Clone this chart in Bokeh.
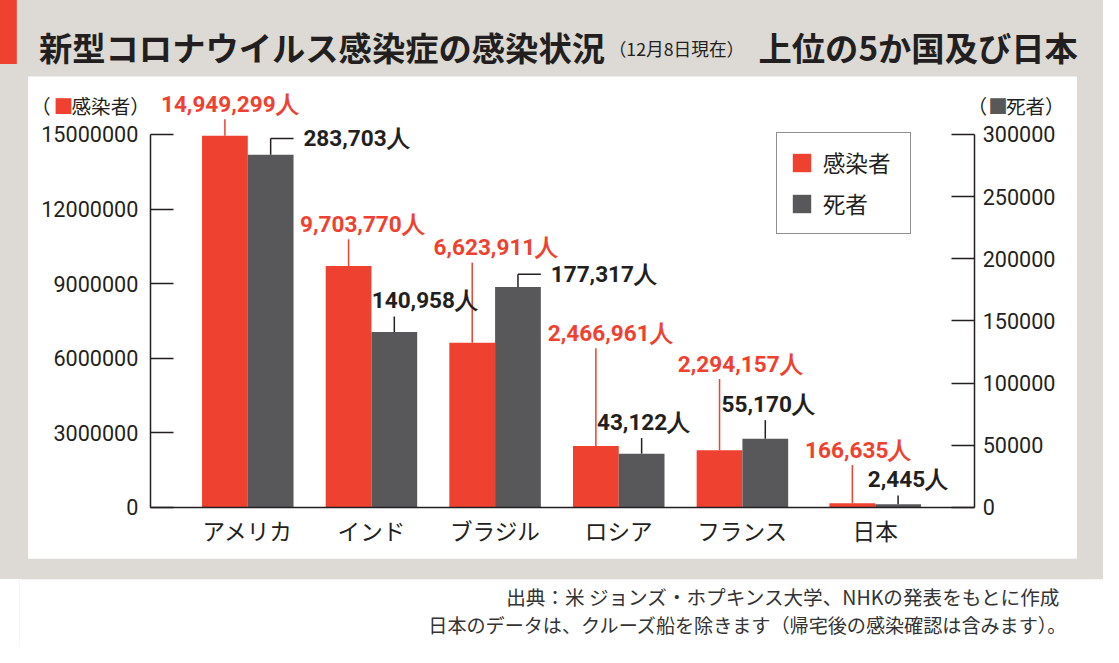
from bokeh.plotting import figure
from bokeh.models import (ColumnDataSource, FactorRange, Range1d, LinearAxis, CategoricalAxis,
                          FixedTicker, BasicTickFormatter, Legend, LegendItem, Label, BoxAnnotation)
from bokeh.transform import dodge
from bokeh.core.properties import value
from bokeh.embed import file_html
from bokeh.resources import INLINE

# ---------------- data ----------------
CATEGORIES = ["アメリカ", "インド", "ブラジル", "ロシア", "フランス", "日本"]
GROUPS = ["上位5か国"] * 5 + ["日本 "]
INFECTED = [14949299, 9703770, 6623911, 2466961, 2294157, 166635]
DEATHS = [283703, 140958, 177317, 43122, 55170, 2445]
LEFT_TICKS = [0, 3000000, 6000000, 9000000, 12000000, 15000000]
RIGHT_TICKS = [0, 50000, 100000, 150000, 200000, 250000, 300000]

# ---------------- layout (reference pixels, scaled to the canvas) ----------------
W, H = 1103, 647
REF_W, REF_H = 1119, 663
SX, SY = W / REF_W, H / REF_H
SF = (SX + SY) / 2


def cx(r):
    return r * SX


def cy(r):
    return r * SY


def fs(px):
    return f"{px * SF:.1f}px"


UNIT = 125.45 * SX           # px per category
CENTER = 569.25 * SX         # horizontal centre of the bar groups
FRAME_L = int(round(2 * CENTER - W))
GROUP_PAD = 0.074
RANGE_PAD = ((W - FRAME_L) / UNIT - (len(CATEGORIES) + GROUP_PAD)) / 2
XS0 = -RANGE_PAD
ZERO_PY, TOP_PY = cy(519.3), cy(137.3)
K_INF = 15000000 / (ZERO_PY - TOP_PY)
K_DEA = 300000 / (ZERO_PY - TOP_PY)


def X(px):
    return XS0 + (px - FRAME_L) / UNIT


RED = "#ef4130"
GRAY = "#58585a"
DARK = "#231f20"
BEIGE = "#dddad5"
JP = "Noto Sans CJK JP"
NUM = "Roboto"
VAL = "Roboto"
VAL_SIZE = fs(23)
BW = 0.37
HALF = BW / 2

# label placement (reference px): shift of label centre from bar centre, rise of label centre above bar top
RED_DX = [5, 14, 24, 14.5, 21, 6]
RED_RISE = [32, 42.5, 97, 115, 88, 54]
GRAY_DX = [0, 31, 0, 2, 3, 10]
GRAY_RISE = [16.7, 32, 13, 32, 35, 25]
GRAY_BRACKET = [True, False, True, False, False, False]

factors = list(zip(GROUPS, CATEGORIES))

p = figure(width=W, height=H, output_backend="svg", toolbar_location=None,
           x_range=FactorRange(*factors, group_padding=GROUP_PAD, factor_padding=0,
                               range_padding=RANGE_PAD, range_padding_units="absolute"),
           y_range=Range1d(-(H - ZERO_PY) * K_INF, 15000000 + TOP_PY * K_INF),
           x_axis_location=None, y_axis_location=None)
p.extra_y_ranges = {"deaths": Range1d(-(H - ZERO_PY) * K_DEA, 300000 + TOP_PY * K_DEA)}
p.min_border = 0
p.min_border_left = FRAME_L
p.background_fill_color = BEIGE
p.border_fill_color = None
p.styles = {"background": (f"linear-gradient({RED}, {RED}) 0 0 / {cx(17):.1f}px {cy(66):.1f}px no-repeat, "
                           f"linear-gradient(#ffffff, #ffffff) 0 {cy(593):.1f}px / 100% 100px no-repeat, {BEIGE}")}
p.outline_line_color = None
p.grid.visible = False
p.title.visible = False


def box(l, r, t, b, color):
    p.add_layout(BoxAnnotation(left=cx(l), right=cx(r), top=cy(t), bottom=cy(b),
                               left_units="canvas", right_units="canvas",
                               top_units="canvas", bottom_units="canvas",
                               fill_color=color, fill_alpha=1, line_color=None, level="underlay"))


box(28, 1092, 78, 572, "white")
box(0, REF_W, 593, REF_H, "white")

src = ColumnDataSource(dict(
    x=factors, inf=INFECTED, dea=DEATHS,
    inf_lbl=[f"{v:,}人" for v in INFECTED],
    red_dx=[cx(d) for d in RED_DX], red_rise=[-cy(r) for r in RED_RISE],
    red_top=[v + cy(r - 15) * K_INF for v, r in zip(INFECTED, RED_RISE)],
))

r_inf = p.vbar(x=dodge("x", -HALF, range=p.x_range), top="inf", width=BW, source=src,
               fill_color=RED, line_color=None)
r_dea = p.vbar(x=dodge("x", HALF, range=p.x_range), top="dea", width=BW, source=src,
               fill_color=GRAY, line_color=None, y_range_name="deaths")

# red leaders + labels
p.segment(x0=dodge("x", -HALF, range=p.x_range), x1=dodge("x", -HALF, range=p.x_range),
          y0="inf", y1="red_top", source=src, line_color=RED, line_width=1.5)
p.text(x=dodge("x", -HALF, range=p.x_range), y="inf", text="inf_lbl", source=src,
       x_offset="red_dx", y_offset="red_rise",
       text_font=value(VAL), text_font_style="bold", text_font_size=VAL_SIZE,
       text_color=RED, text_align="center", text_baseline="middle")

# gray leaders + labels
idx_b = [i for i in range(len(CATEGORIES)) if GRAY_BRACKET[i]]
idx_u = [i for i in range(len(CATEGORIES)) if not GRAY_BRACKET[i]]


def sub(idx):
    return ColumnDataSource(dict(
        x=[factors[i] for i in idx],
        xr=[(GROUPS[i], CATEGORIES[i], BW) for i in idx],
        dea=[DEATHS[i] for i in idx],
        lbl=[f"{DEATHS[i]:,}人" for i in idx],
        dx=[cx(GRAY_DX[i]) for i in idx],
        rise=[-cy(GRAY_RISE[i]) for i in idx],
        top=[DEATHS[i] + cy(GRAY_RISE[i] - (0 if GRAY_BRACKET[i] else 16)) * K_DEA for i in idx],
    ))


sb, su = sub(idx_b), sub(idx_u)
for s in (sb, su):
    p.segment(x0=dodge("x", HALF, range=p.x_range), x1=dodge("x", HALF, range=p.x_range),
              y0="dea", y1="top", source=s, line_color=DARK, line_width=1.5, y_range_name="deaths")
p.segment(x0=dodge("x", HALF, range=p.x_range), x1="xr", y0="top", y1="top", source=sb,
          line_color=DARK, line_width=1.5, y_range_name="deaths")
p.text(x="xr", y="top", text="lbl", source=sb, x_offset=cx(10),
       text_font=value(VAL), text_font_style="bold", text_font_size=VAL_SIZE,
       text_color=DARK, text_align="left", text_baseline="middle", y_range_name="deaths")
p.text(x=dodge("x", HALF, range=p.x_range), y="dea", text="lbl", source=su,
       x_offset="dx", y_offset="rise",
       text_font=value(VAL), text_font_style="bold", text_font_size=VAL_SIZE,
       text_color=DARK, text_align="center", text_baseline="middle", y_range_name="deaths")

# axes
ax_l = LinearAxis(fixed_location=X(cx(152)), bounds=(0, 15000000), ticker=FixedTicker(ticks=LEFT_TICKS),
                  formatter=BasicTickFormatter(use_scientific=False))
ax_r = LinearAxis(fixed_location=X(cx(988.3)), bounds=(0, 300000), ticker=FixedTicker(ticks=RIGHT_TICKS),
                  formatter=BasicTickFormatter(use_scientific=False), y_range_name="deaths")
for ax, so in ((ax_l, 12), (ax_r, 8)):
    ax.major_tick_in = int(round(cx(23)))
    ax.major_tick_out = 0
    ax.minor_tick_in = 0
    ax.minor_tick_out = 0
    ax.axis_line_color = DARK
    ax.axis_line_width = 1.5
    ax.major_tick_line_color = DARK
    ax.major_tick_line_width = 1.5
    ax.major_label_standoff = so
    ax.major_label_text_font = NUM
    ax.major_label_text_font_size = fs(22)
    ax.major_label_text_color = DARK
p.add_layout(ax_l, "left")
p.add_layout(ax_r, "right")

ax_b = CategoricalAxis(fixed_location=0, bounds=(X(cx(152)), X(cx(988.3))))
ax_b.major_tick_in = 0
ax_b.major_tick_out = 0
ax_b.axis_line_color = DARK
ax_b.axis_line_width = 1.5
ax_b.major_label_standoff = 7
ax_b.major_label_text_font = JP
ax_b.major_label_text_font_size = fs(23)
ax_b.major_label_text_color = DARK
ax_b.group_text_font_size = "0px"
ax_b.group_text_color = None
ax_b.separator_line_color = None
p.add_layout(ax_b, "below")

# legend (box: x 787..925, y 135..240 in reference px)
legend = Legend(items=[LegendItem(label="感染者", renderers=[r_inf]),
                       LegendItem(label="死者", renderers=[r_dea])],
                location=(cx(787) - FRAME_L, H - cy(240)), orientation="vertical",
                border_line_color=DARK, border_line_width=1.5,
                background_fill_color="white", background_fill_alpha=1,
                label_text_font=JP, label_text_font_size=fs(23), label_text_color=DARK,
                glyph_width=23, glyph_height=23, label_height=23, label_width=74,
                label_standoff=10, padding=13, spacing=8, margin=0)
p.add_layout(legend)


def lab(x, y, text, size, color=DARK, bold=False, align="left", font=JP):
    p.add_layout(Label(x=cx(x), y=cy(y), x_units="canvas", y_units="canvas", text=text,
                       text_font=font, text_font_size=fs(size), text_color=color,
                       text_font_style="bold" if bold else "normal",
                       text_align=align, text_baseline="middle"))


# title
lab(39, 47.5, "新型コロナウイルス感染症の感染状況", 34, bold=True)
lab(617, 48.5, "（12月8日現在）", 18)
lab(769, 47.5, "上位の5か国及び日本", 34, bold=True)

# axis captions
lab(31, 108, "（", 20)
lab(54, 108, "■", 20, color=RED)
lab(72, 108, "感染者）", 20)
lab(981, 108, "（", 20)
lab(1002, 108, "■", 20, color=GRAY)
lab(1020, 108, "死者）", 20)

# footer
lab(513, 611, "出典：米 ジョンズ・ホプキンス大学、NHKの発表をもとに作成", 20, color="#333333")
lab(434, 640, "日本のデータは、クルーズ船を除きます（帰宅後の感染確認は含みます）。", 19.5, color="#333333")

open("out.html", "w").write(file_html(p, INLINE))
